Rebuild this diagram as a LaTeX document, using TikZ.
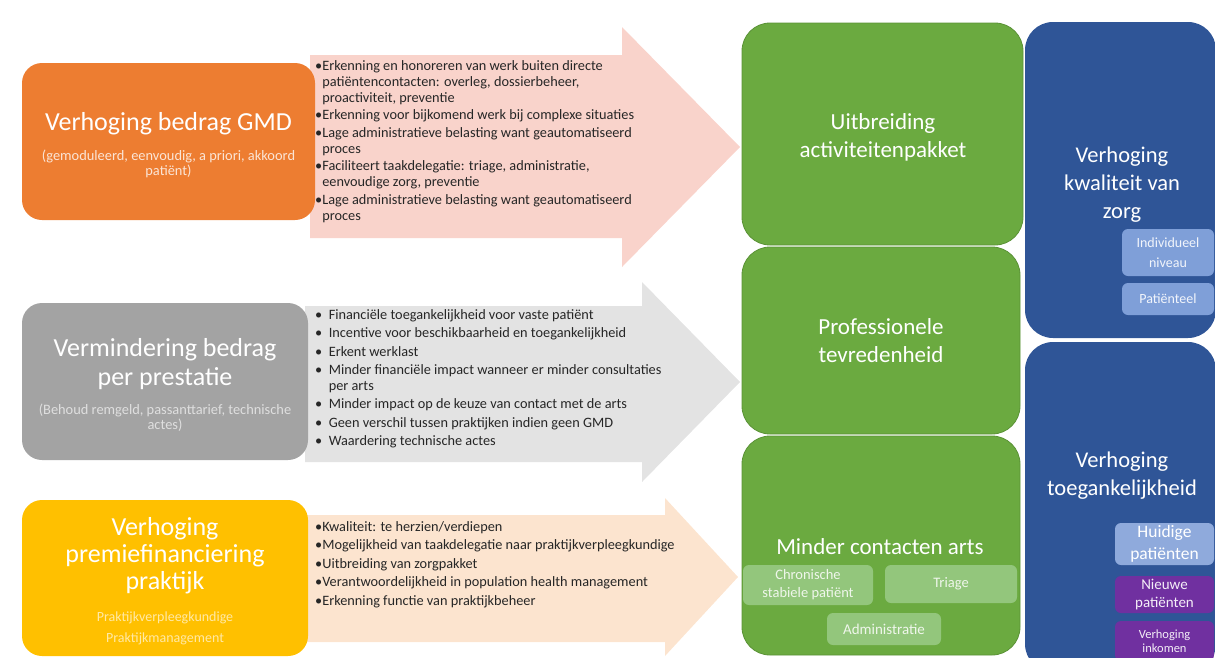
\documentclass[tikz,border=0pt]{standalone}
\usepackage{fontspec}
\setmainfont{Carlito}
\usepackage{tikz}

\definecolor{gmdorange}{HTML}{ED7D31}
\definecolor{prestgray}{HTML}{A3A3A3}
\definecolor{premieyellow}{HTML}{FFC000}
\definecolor{pinkarrow}{HTML}{F9D3CB}
\definecolor{grayarrow}{HTML}{E3E3E3}
\definecolor{peacharrow}{HTML}{FCE4CF}
\definecolor{zorggreen}{HTML}{6BAA40}
\definecolor{greenborder}{HTML}{5A9236}
\definecolor{subgreen}{HTML}{93C67C}
\definecolor{zorgblue}{HTML}{2F5597}
\definecolor{subblue}{HTML}{7F9FD8}
\definecolor{huidigblue}{HTML}{8FAADC}
\definecolor{subpurple}{HTML}{7030A0}
\definecolor{bullettext}{HTML}{262626}

\begin{document}
\begin{tikzpicture}[x=1pt,y=-1pt,
  box/.style={rounded corners=20pt, inner sep=0pt},
  greenbox/.style={box, rounded corners=28pt, fill=zorggreen, draw=greenborder, line width=0.8pt},
  bluebox/.style={box, rounded corners=28pt, fill=zorgblue},
  subbox/.style={rounded corners=6pt, inner sep=0pt, align=center},
  title/.style={align=center, text=white, font=\fontsize{26}{29}\selectfont},
  resulttitle/.style={align=center, text=white, font=\fontsize{23}{28}\selectfont},
  subtitle/.style={align=center, font=\fontsize{14.4}{15}\selectfont},
  bullets/.style={anchor=north west, align=left, inner sep=0pt, text=bullettext, font=\fontsize{14.3}{16}\selectfont}]

\useasboundingbox (0,0) rectangle (1215,657);
\clip (0,0) rectangle (1215,657);

% arrows
\fill[pinkarrow] (310,55) -- (622,55) -- (622,27) -- (740,147) -- (622,267) -- (622,238) -- (310,238) -- cycle;
\fill[grayarrow] (305,306) -- (642,306) -- (642,282) -- (740,382) -- (642,482) -- (642,462) -- (305,462) -- cycle;
\fill[peacharrow] (305,515) -- (665,515) -- (665,498) -- (738,577) -- (665,656) -- (665,642) -- (305,642) -- cycle;

% left boxes
\node[box, fill=gmdorange, minimum width=293pt, minimum height=157pt] (gmd) at (168.5,141.5) {};
\node[box, fill=prestgray, minimum width=286pt, minimum height=157pt] (prest) at (165,381.5) {};
\node[box, fill=premieyellow, minimum width=286pt, minimum height=156pt] (premie) at (165,578) {};

\node[title] (gmdt) at (168.5,123.5) {Verhoging bedrag GMD};
\node[subtitle, text=white!80!gmdorange] (gmds) at (168.5,164) {(gemoduleerd, eenvoudig, a priori, akkoord\\patiënt)};
\node[title] (prestt) at (165,364) {Vermindering bedrag\\per prestatie};
\node[subtitle, text=white!65!prestgray] (prests) at (165,418) {(Behoud remgeld, passanttarief, technische\\actes)};
\node[title, font=\fontsize{26}{27}\selectfont] (premiet) at (165,556) {Verhoging\\premiefinanciering\\praktijk};
\node[subtitle, text=white!65!premieyellow, font=\fontsize{14}{21}\selectfont] (premies) at (165,628) {Praktijkverpleegkundige\\Praktijkmanagement};

% arrow texts
\node[bullets] (gmdlist) at (315,60) {•Erkenning en honoreren van werk buiten directe\\
\hphantom{•}patiëntencontacten: overleg, dossierbeheer,\\
\hphantom{•}proactiviteit, preventie\\[1.5pt]
•Erkenning voor bijkomend werk bij complexe situaties\\[1.5pt]
•Lage administratieve belasting want geautomatiseerd\\
\hphantom{•}proces\\[1.5pt]
•Faciliteert taakdelegatie: triage, administratie,\\
\hphantom{•}eenvoudige zorg, preventie\\[1.5pt]
•Lage administratieve belasting want geautomatiseerd\\
\hphantom{•}proces};
\node[bullets] (prestlist) at (315,309.5) {•\ \ Financiële toegankelijkheid voor vaste patiënt\\[2.3pt]
•\ \ Incentive voor beschikbaarheid en toegankelijkheid\\[2.3pt]
•\ \ Erkent werklast\\[2.3pt]
•\ \ Minder financiële impact wanneer er minder consultaties\\
\hphantom{•\ \ }per arts\\[2.3pt]
•\ \ Minder impact op de keuze van contact met de arts\\[2.3pt]
•\ \ Geen verschil tussen praktijken indien geen GMD\\[2.3pt]
•\ \ Waardering technische actes};
\node[bullets, font=\fontsize{14.3}{18.5}\selectfont] (premielist) at (315,521) {•Kwaliteit: te herzien/verdiepen\\
•Mogelijkheid van taakdelegatie naar praktijkverpleegkundige\\
•Uitbreiding van zorgpakket\\
•Verantwoordelijkheid in population health management\\
•Erkenning functie van praktijkbeheer};

% green boxes
\node[greenbox, minimum width=281pt, minimum height=222pt] (pakket) at (882.5,134) {};
\node[greenbox, minimum width=278pt, minimum height=187pt] (tevreden) at (881,340.5) {};
\node[greenbox, minimum width=278pt, minimum height=219pt] (contacten) at (881,545.5) {};
\node[resulttitle] (pakkett) at (883,137.5) {Uitbreiding\\activiteitenpakket};
\node[resulttitle] (tevredent) at (881,341) {Professionele\\tevredenheid};
\node[resulttitle] (contactent) at (880,547) {Minder contacten arts};
\node[subbox, fill=subgreen, text=white!85!subgreen, minimum width=130pt, minimum height=40pt, font=\fontsize{14.5}{18}\selectfont] (chronisch) at (808,585) {Chronische\\stabiele patiënt};
\node[subbox, fill=subgreen, text=white!85!subgreen, minimum width=132pt, minimum height=38pt, font=\fontsize{14.5}{18}\selectfont] (triage) at (951,584) {Triage};
\node[subbox, fill=subgreen, text=white!85!subgreen, minimum width=114pt, minimum height=32pt, font=\fontsize{15}{18}\selectfont] (admin) at (884,629) {Administratie};

% blue boxes
\node[bluebox, minimum width=191pt, minimum height=316pt] (kwaliteit) at (1120.5,180) {};
\node[bluebox, minimum width=191pt, minimum height=330pt] (toegang) at (1120.5,507) {};
\node[resulttitle, font=\fontsize{22.5}{28}\selectfont] (kwaliteitt) at (1122,184.5) {Verhoging\\kwaliteit van\\zorg};
\node[resulttitle, font=\fontsize{22.5}{27.5}\selectfont] (toegangt) at (1122,475.5) {Verhoging\\toegankelijkheid};
\node[subbox, fill=subblue, text=white!90!subblue, minimum width=92pt, minimum height=47pt, font=\fontsize{14}{20}\selectfont] (individueel) at (1168,252.5) {Individueel\\niveau};
\node[subbox, fill=subblue, text=white!90!subblue, minimum width=92pt, minimum height=32pt, font=\fontsize{14}{18}\selectfont] (patienteel) at (1168,299) {Patiënteel};
\node[subbox, fill=huidigblue, text=white, minimum width=99pt, minimum height=42pt, font=\fontsize{17.5}{22}\selectfont] (huidig) at (1164.5,544) {Huidige\\patiënten};
\node[subbox, fill=subpurple, text=white!92!subpurple, minimum width=99pt, minimum height=37pt, font=\fontsize{15}{18}\selectfont] (nieuw) at (1164.5,594.5) {Nieuwe\\patiënten};
\node[subbox, fill=subpurple, text=white!92!subpurple, minimum width=99pt, minimum height=40pt, font=\fontsize{12.5}{14.5}\selectfont] (inkomen) at (1164.5,641) {Verhoging\\inkomen};
\end{tikzpicture}
\end{document}
